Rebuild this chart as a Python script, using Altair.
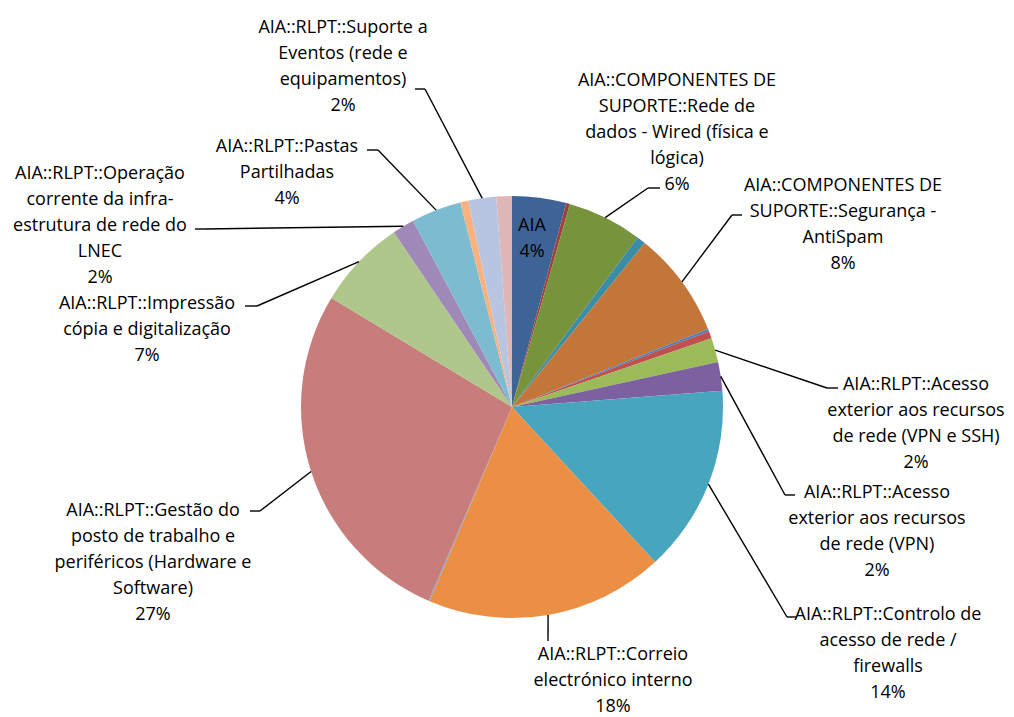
import altair as alt
import pandas as pd

# ---- data (clockwise from 12 o'clock) ----
categories = [
    "AIA",
    "AIA::COMPONENTES DE SUPORTE::Outro 1",
    "AIA::COMPONENTES DE SUPORTE::Rede de dados - Wired (física e lógica)",
    "AIA::COMPONENTES DE SUPORTE::Outro 2",
    "AIA::COMPONENTES DE SUPORTE::Segurança - AntiSpam",
    "AIA::COMPONENTES DE SUPORTE::Outro 3",
    "AIA::COMPONENTES DE SUPORTE::Outro 4",
    "AIA::RLPT::Acesso exterior aos recursos de rede (VPN e SSH)",
    "AIA::RLPT::Acesso exterior aos recursos de rede (VPN)",
    "AIA::RLPT::Controlo de acesso de rede / firewalls",
    "AIA::RLPT::Correio electrónico interno",
    "AIA::RLPT::Outro 5",
    "AIA::RLPT::Gestão do posto de trabalho e periféricos (Hardware e Software)",
    "AIA::RLPT::Impressão cópia e digitalização",
    "AIA::RLPT::Operação corrente da infra-estrutura de rede do LNEC",
    "AIA::RLPT::Pastas Partilhadas",
    "AIA::RLPT::Outro 6",
    "AIA::RLPT::Suporte a Eventos (rede e equipamentos)",
    "AIA::RLPT::Outro 7",
]
values = [4.14, 0.28, 5.72, 0.69, 8.14, 0.19, 0.56, 1.86, 2.19, 14.36,
          18.25, 0.08, 27.17, 6.89, 1.69, 3.83, 0.61, 2.14, 1.19]
colors = ["#3E6497", "#9E413E", "#77933C", "#3A8DA4", "#C3763A", "#4A7EBB",
          "#C0504D", "#9BBB59", "#7D60A0", "#47A5BE", "#EB8F45", "#7F9FD0",
          "#C77D7C", "#AFC78A", "#9F8AB7", "#7DBCD0", "#F9B27F", "#B8C5E0",
          "#DDB7B7"]
# label text (wrapped as in the reference); None = slice without label
label_lines = [
    "AIA",
    None,
    "AIA::COMPONENTES DE\nSUPORTE::Rede de\ndados - Wired (física e\nlógica)",
    None,
    "AIA::COMPONENTES DE\nSUPORTE::Segurança -\nAntiSpam",
    None,
    None,
    "AIA::RLPT::Acesso\nexterior aos recursos\nde rede (VPN e SSH)",
    "AIA::RLPT::Acesso\nexterior aos recursos\nde rede (VPN)",
    "AIA::RLPT::Controlo de\nacesso de rede /\nfirewalls",
    "AIA::RLPT::Correio\nelectrónico interno",
    None,
    "AIA::RLPT::Gestão do\nposto de trabalho e\nperiféricos (Hardware e\nSoftware)",
    "AIA::RLPT::Impressão\ncópia e digitalização",
    "AIA::RLPT::Operação\ncorrente da infra-\nestrutura de rede do\nLNEC",
    "AIA::RLPT::Pastas\nPartilhadas",
    None,
    "AIA::RLPT::Suporte a\nEventos (rede e\nequipamentos)",
    None,
]

# ---- layout (pixel offsets from the pie centre; label y = first line) ----
R = 211
label_x = [20, None, 165, None, 331, None, None, 404, 365, 376, 101, None,
           -359, -365, -412, -225, None, -169, None]
label_y = [-181, None, -326, None, -221, None, None, -22, 86, 208, 248, None,
           104, -103, -233, -260, None, -379, None]
elbow_x = [None, None, 136, None, 220, None, None, 315, 273, 275, 36, None,
           -252, -255, -307, -134, None, -87, None]
elbow_y = [None, None, -219, None, -192, None, None, -19, 88, 210, 234, None,
           104, -101, -178, -257, None, -318, None]
attach_x = [None, None, 148, None, 230, None, None, 326, 283, 285, 36, None,
            -262, -267, -317, -145, None, -97, None]

df = pd.DataFrame({
    "cat": categories,
    "value": values,
    "idx": list(range(len(categories))),
    "lab": label_lines,
    "tx": label_x, "ty": label_y,
    "ex": elbow_x, "ey": elbow_y, "ax": attach_x,
})

xs = alt.Scale(domain=[-504, 494], nice=False, zero=False)
ys = alt.Scale(domain=[-399, 310], nice=False, zero=False, reverse=True)

base = alt.Chart(df).transform_joinaggregate(
    total="sum(value)"
).transform_window(
    cum="sum(value)", sort=[alt.SortField("idx")], frame=[None, 0]
).transform_calculate(
    mid="(datum.cum - datum.value/2) / datum.total * 2 * PI",
    sx=f"{R} * sin(datum.mid)",
    sy=f"-{R} * cos(datum.mid)",
    txt="datum.lab + '\\n' + format(datum.value / datum.total, '.0%')",
)

pie = alt.Chart(df).mark_arc(outerRadius=R, strokeWidth=0).encode(
    theta=alt.Theta("value:Q", stack=True),
    color=alt.Color("cat:N", scale=alt.Scale(domain=categories, range=colors),
                    legend=None),
    order=alt.Order("idx:Q"),
    x=alt.XDatum(0, type="quantitative", scale=xs, axis=None),
    y=alt.YDatum(0, type="quantitative", scale=ys, axis=None),
)

lead1 = base.transform_filter("isValid(datum.ex)").mark_rule(
    color="black", strokeWidth=1.4
).encode(
    x=alt.X("sx:Q", scale=xs, axis=None),
    y=alt.Y("sy:Q", scale=ys, axis=None),
    x2="ex:Q", y2="ey:Q",
)
lead2 = base.transform_filter("isValid(datum.ex)").mark_rule(
    color="black", strokeWidth=1.4
).encode(
    x=alt.X("ex:Q", scale=xs, axis=None),
    y=alt.Y("ey:Q", scale=ys, axis=None),
    x2="ax:Q",
)
labels = base.transform_filter("isValid(datum.lab)").mark_text(
    align="center", baseline="middle", lineBreak="\n", lineHeight=26,
    fontSize=18, font="Open Sans", color="black",
).encode(
    x=alt.X("tx:Q", scale=xs, axis=None),
    y=alt.Y("ty:Q", scale=ys, axis=None),
    text="txt:N",
)

chart = alt.layer(pie, lead1, lead2, labels).properties(
    width=998, height=709, padding=0, autosize=alt.AutoSizeParams(type="none")
).configure_view(strokeWidth=0)

chart.save("out.html", embed_options={"renderer": "svg", "actions": False})
